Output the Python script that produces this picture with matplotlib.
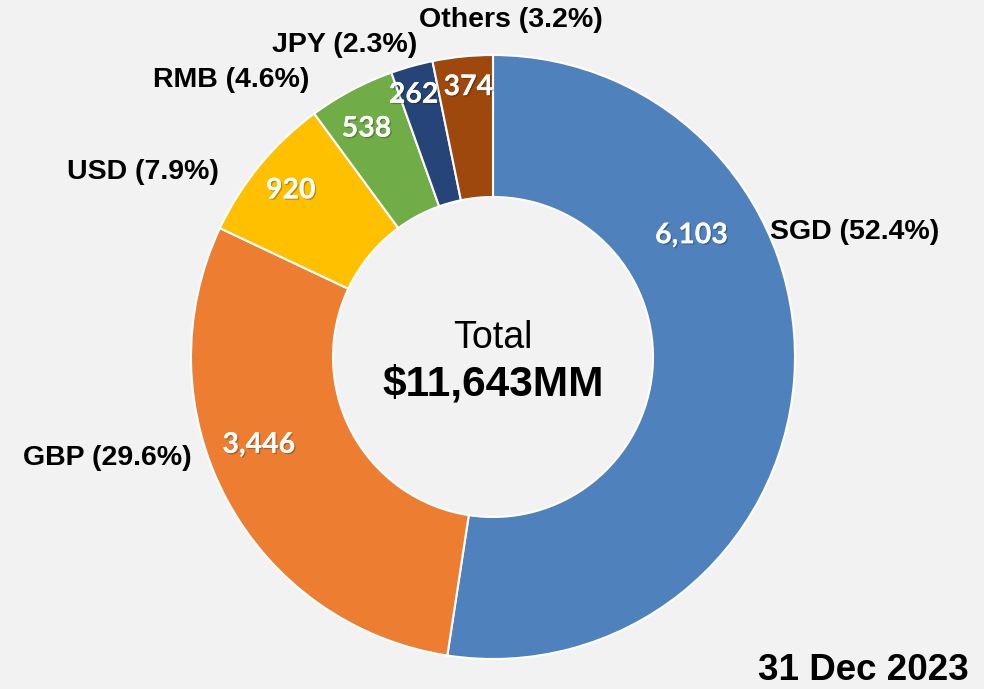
import matplotlib
matplotlib.use("Agg")
import matplotlib.pyplot as plt
import matplotlib.patheffects as pe
import numpy as np

# ---- data ----
categories = ["SGD", "GBP", "USD", "RMB", "JPY", "Others"]
values = [6103, 3446, 920, 538, 262, 374]
percents = ["52.4%", "29.6%", "7.9%", "4.6%", "2.3%", "3.2%"]
total_label = "$11,643MM"
date_label = "31 Dec 2023"
colors = ["#4F81BD", "#ED7D31", "#FFC000", "#70AD47", "#264478", "#9E480E"]

# ---- layout (pixel space, y up) ----
W, H = 984, 689
cx, cy = 493, H - 357
R_out, R_in = 302, 160
# value label placement: fraction along wedge angle, radius
val_frac = [0.31, 0.57, 0.5, 0.44, 0.35, 0.55]
val_rad = [233, 250, 262, 261, 274, 271]
# outer category label positions (x, y from top, ha)
cat_pos = [(770, 232, "left"), (192, 458, "right"), (219, 172, "right"),
           (309, 80, "right"), (417, 45, "right"), (511, 20, "center")]

fig = plt.figure(figsize=(W / 100, H / 100), dpi=100, facecolor="#F2F2F2")
ax = fig.add_axes([0, 0, 1, 1])
ax.set_facecolor("#F2F2F2")

ax.pie(values, colors=colors, startangle=90, counterclock=False,
       center=(cx, cy), radius=R_out, frame=True,
       wedgeprops=dict(width=R_out - R_in, edgecolor="white", linewidth=1.5))
ax.set_xlim(0, W)
ax.set_ylim(0, H)
ax.set_aspect("equal")
ax.axis("off")

tot = sum(values)
cum = np.concatenate([[0], np.cumsum(values)]) / tot * 360.0
shadow = [pe.withSimplePatchShadow(offset=(1, -1), shadow_rgbFace="#000000", alpha=0.25), pe.Normal()]
for i, v in enumerate(values):
    ang = cum[i] + val_frac[i] * (cum[i + 1] - cum[i])  # clockwise from top
    rad = np.deg2rad(ang)
    x = cx + val_rad[i] * np.sin(rad)
    y = cy + val_rad[i] * np.cos(rad)
    ax.text(x, y, f"{v:,}", ha="center", va="center", color="white",
            fontsize=20.5, fontweight="bold", family="Lato",
            path_effects=shadow)

for i, c in enumerate(categories):
    x, ytop, ha = cat_pos[i]
    ax.text(x, H - ytop, f"{c} ({percents[i]})", ha=ha, va="center",
            fontsize=20.5, fontweight="bold", family="Liberation Sans", color="black")

ax.text(cx, H - 338, "Total", ha="center", va="center", fontsize=27,
        family="Liberation Sans", color="black")
ax.text(cx, H - 385, total_label, ha="center", va="center", fontsize=30.5,
        fontweight="bold", family="Liberation Sans", color="black")
ax.text(969, H - 671, date_label, ha="right", va="center", fontsize=26.5,
        fontweight="bold", family="Liberation Sans", color="black")

fig.savefig("out.png", dpi=100, facecolor="#F2F2F2")
